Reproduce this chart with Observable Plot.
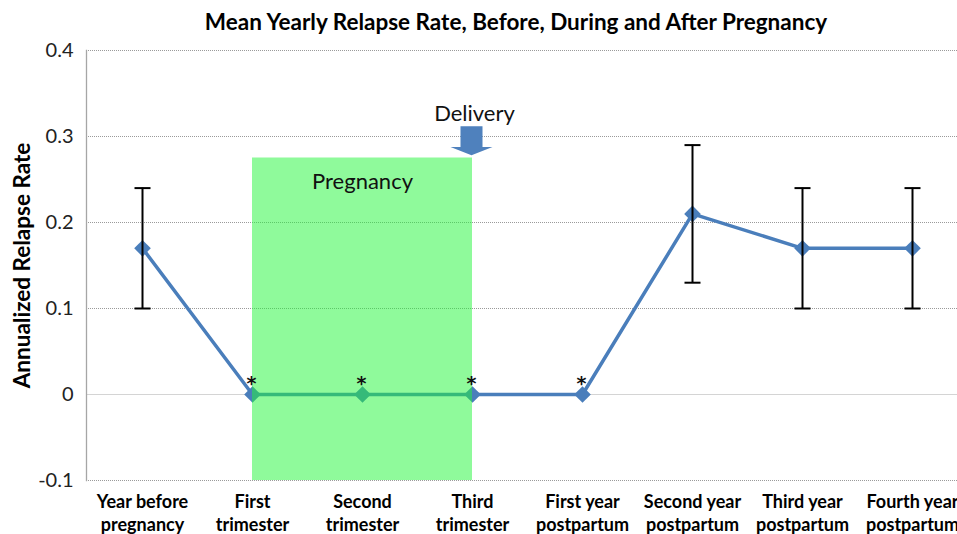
<!DOCTYPE html>
<html>
<head>
<meta charset="utf-8">
<script src="https://cdn.jsdelivr.net/npm/d3@7"></script>
<script src="https://cdn.jsdelivr.net/npm/@observablehq/plot@0.6"></script>
<style>
  html, body { margin: 0; padding: 0; background: #fff; overflow: hidden; }
  #title { height: 40px; line-height: 44px; font-family: Lato, sans-serif; font-weight: bold; font-size: 22.5px; color: #000; text-align: center; padding-left: 75px; width: 882px; white-space: nowrap; }
</style>
</head>
<body>
<div id="title">Mean Yearly Relapse Rate, Before, During and After Pregnancy</div>
<div id="chart"></div>
<script>
const categories = [
  "Year before\npregnancy",
  "First\ntrimester",
  "Second\ntrimester",
  "Third\ntrimester",
  "First year\npostpartum",
  "Second year\npostpartum",
  "Third year\npostpartum",
  "Fourth year\npostpartum"
];
const rates   = [0.17, 0, 0, 0, 0, 0.21, 0.17, 0.17];
const errLow  = [0.10, null, null, null, null, 0.13, 0.10, 0.10];
const errHigh = [0.24, null, null, null, null, 0.29, 0.24, 0.24];
const starred = [false, true, true, true, true, false, false, false];
const yTicks = [-0.1, 0, 0.1, 0.2, 0.3, 0.4];
const yTitle = "Annualized Relapse Rate";
const pregnancy = [{from: categories[1], to: categories[3], bottom: -0.1, top: 0.275, mid: categories[2], labelY: 0.247, label: "Pregnancy"}];
const delivery = [{cat: categories[3], arrowTop: 0.312, labelY: 0.326, label: "Delivery"}];

const data = categories.map((c, i) => ({cat: c, rate: rates[i], lo: errLow[i], hi: errHigh[i], star: starred[i]}));
const errs = data.filter(d => d.lo != null);
const stars = data.filter(d => d.star);

const blue = "#4a7ebb";
const capSymbol = {draw(ctx) { ctx.moveTo(-8, 0); ctx.lineTo(8, 0); }};
const blockArrow = {draw(ctx, l) {
  const b = l * 0.72;
  ctx.moveTo(-11, 0); ctx.lineTo(11, 0); ctx.lineTo(11, -b); ctx.lineTo(21, -b);
  ctx.lineTo(0, -l); ctx.lineTo(-21, -b); ctx.lineTo(-11, -b); ctx.closePath();
}};

const chart = Plot.plot({
  width: 957,
  height: 494,
  marginTop: 10,
  marginBottom: 54,
  marginLeft: 86,
  marginRight: 0,
  style: {fontFamily: "Lato, sans-serif", fontSize: "16px", color: "#000", background: "#fff", overflow: "visible"},
  x: {type: "point", domain: categories, padding: 0.5, range: [85, 969]},
  y: {domain: [-0.1, 0.4]},
  marks: [
    Plot.gridY(yTicks.filter(t => t !== 0), {stroke: "#9a9a9a", strokeOpacity: 1, strokeDasharray: "1,1"}),
    Plot.ruleY([0], {stroke: "#d4d4d4", strokeWidth: 1.2}),
    Plot.frame({anchor: "left", stroke: "#a6a6a6", strokeWidth: 1.3}),
    Plot.axisY(yTicks, {tickSize: 0, tickPadding: 13, fontSize: 20, fill: "#222",
      tickFormat: d => d === 0 ? "0" : d.toFixed(1), label: null}),
    Plot.axisX({tickSize: 0, tickPadding: 11, fontSize: 18, fontWeight: "bold", lineHeight: 1.28, fill: "#000", label: null}),
    Plot.text([yTitle], {frameAnchor: "left", textAnchor: "middle", rotate: -90, dx: -64, dy: 0, fontSize: 22.5, fontWeight: "bold", fill: "#000"}),
    Plot.line(data, {x: "cat", y: "rate", stroke: blue, strokeWidth: 3.5}),
    Plot.dot(data, {x: "cat", y: "rate", symbol: "diamond2", r: 7.5, fill: blue, stroke: "none"}),
    Plot.rect(pregnancy, {x1: "from", x2: "to", y1: "bottom", y2: "top", fill: "#1ff537", fillOpacity: 0.5}),
    Plot.text(pregnancy, {x: "mid", y: "labelY", text: "label", fontSize: 22, fill: "#111"}),
    Plot.ruleX(errs, {x: "cat", y1: "lo", y2: "hi", stroke: "#000", strokeWidth: 2}),
    Plot.dot(errs, {x: "cat", y: "lo", symbol: capSymbol, stroke: "#000", strokeWidth: 2, fill: "none"}),
    Plot.dot(errs, {x: "cat", y: "hi", symbol: capSymbol, stroke: "#000", strokeWidth: 2, fill: "none"}),
    Plot.text(stars, {x: "cat", y: "rate", text: () => "*", dy: -11, dx: -1, fontSize: 19, fontFamily: "DejaVu Sans", fontWeight: "bold", fill: "#111"}),
    Plot.vector(delivery, {x: "cat", y: "arrowTop", length: 29, rotate: 180, anchor: "start", shape: blockArrow, fill: "#4f81bd", stroke: "none", dx: -1}),
    Plot.text(delivery, {x: "cat", y: "labelY", text: "label", dx: 2, fontSize: 22, fill: "#111"})
  ]
});
document.getElementById("chart").appendChild(chart);
</script>
</body>
</html>
